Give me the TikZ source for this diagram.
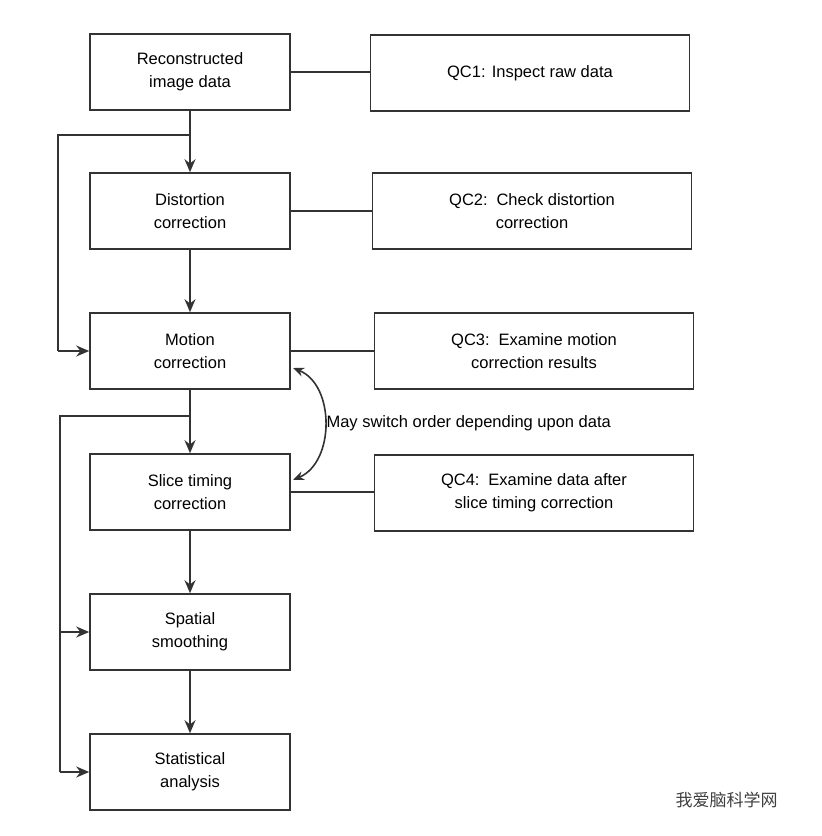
\documentclass[tikz,border=0pt]{standalone}
\usepackage{fontspec}
\setmainfont{Liberation Sans}
\newfontfamily\cjk{Noto Sans CJK SC}
\usetikzlibrary{arrows.meta}
\begin{document}
\begin{tikzpicture}[x=1pt,y=-1pt,
  box/.style={draw=black!80,line width=1.6pt,minimum height=76pt,align=center,font=\fontsize{16.5}{23}\selectfont,inner sep=0pt},
  lb/.style={box,minimum width=200pt},
  rb/.style={box,minimum width=319pt},
  arr/.style={line width=1.6pt,draw=black!80,-{Stealth[length=13pt,width=11pt]}},
  ln/.style={line width=1.6pt,draw=black!80}]
\useasboundingbox (0,0) rectangle (822,836);
\node[lb] (a) at (190,72) {Reconstructed\\image data};
\node[lb] (b) at (190,211) {Distortion\\correction};
\node[lb] (c) at (190,351) {Motion\\correction};
\node[lb] (d) at (190,492) {Slice timing\\correction};
\node[lb] (e) at (190,632) {Spatial\\smoothing};
\node[lb] (f) at (190,772) {Statistical\\analysis};
\node[rb] (q1) at (530,73) {QC1: Inspect raw data};
\node[rb] (q2) at (532,211) {QC2:\, Check distortion\\correction};
\node[rb] (q3) at (534,351) {QC3:\, Examine motion\\correction results};
\node[rb] (q4) at (534,493) {QC4:\, Examine data after\\slice timing correction};
\draw[ln] (a.east) -- (a.east -| q1.west);
\draw[ln] (b.east) -- (b.east -| q2.west);
\draw[ln] (c.east) -- (c.east -| q3.west);
\draw[ln] (d.east) -- (d.east -| q4.west);
\draw[arr] (a) -- (b);
\draw[arr] (b) -- (c);
\draw[arr] (c) -- (d);
\draw[arr] (d) -- (e);
\draw[arr] (e) -- (f);
\coordinate (t1) at (190,135);
\coordinate (t2) at (190,416);
\draw[ln] (t1) -- (58,135) -- (58,351);
\draw[arr] (58,351) -- (c.west);
\draw[ln] (t2) -- (60,416) -- (60,772);
\draw[arr] (60,632) -- (e.west);
\draw[arr] (60,772) -- (f.west);
\draw[line width=1.6pt,draw=black!80,{Stealth[length=11pt,width=9pt]}-{Stealth[length=11pt,width=9pt]}] (293,368) .. controls (335,385) and (335,462) .. (293,480);
\node[anchor=west,font=\fontsize{16.5}{20}\selectfont] (lab) at (323,423) {May switch order depending upon data};
\node[anchor=west,font=\cjk\fontsize{17}{20}\selectfont,text=black!75] (wm) at (672,800) {我爱脑科学网};
\end{tikzpicture}
\end{document}
